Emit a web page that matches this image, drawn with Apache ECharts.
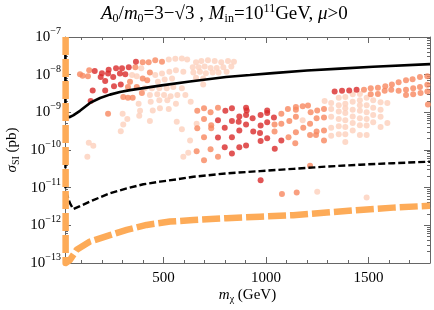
<!DOCTYPE html>
<html><head><meta charset="utf-8">
<script src="https://cdn.jsdelivr.net/npm/echarts@6/dist/echarts.min.js"></script>
<style>html,body{margin:0;padding:0;background:#fff}#c{width:434px;height:310px}</style>
</head><body><div id="c"></div>
<script>
// ---- data: [m_chi (GeV), log10(sigma_SI / pb)] ----
const xTickLabels = [500, 1000, 1500];
const yExponents = [-13, -12, -11, -10, -9, -8, -7];

const darkPoints = [
[366,-7.66],[165,-7.90],[200,-7.96],[233,-7.87],[269,-7.83],[298,-7.83],[331,-7.80],[194,-8.06],[230,-7.97],[255,-8.06],[288,-7.97],[314,-7.99],[216,-8.17],[155,-8.42],[216,-8.42],[259,-8.31],[292,-8.26],[145,-8.70],
[802,-8.96],[834,-8.89],[903,-8.88],[906,-8.95],[870,-9.11],[903,-9.07],[935,-9.16],[974,-9.07],[1006,-8.95],[1006,-9.02],[1039,-9.14],[766,-9.21],[799,-9.41],[834,-9.23],[867,-9.25],[903,-9.32],[938,-9.51],[974,-9.35],[971,-9.55],[1006,-9.26],[766,-9.67],[834,-9.66],[870,-9.48],[1006,-9.69],[974,-9.76],[799,-9.93],[834,-10.09],[870,-9.93],[903,-9.88],[1043,-9.97],[1075,-9.75],[974,-10.80],
[1335,-8.45],[1371,-8.43],[1406,-8.42],[1442,-8.40]
];
const midPoints = [
[399,-7.67],[428,-7.67],[460,-7.62],[493,-7.66],[138,-7.88],[93,-7.99],[106,-8.03],[132,-8.04],[363,-7.80],[399,-8.10],[434,-7.94],[337,-8.19],[421,-8.15],[327,-8.33],[370,-8.33],[304,-8.59],[327,-8.61],[350,-8.61],[395,-8.49],[230,-9.04],
[665,-8.96],[698,-8.89],[730,-9.00],[766,-8.88],[1075,-9.04],[1107,-8.91],[1146,-8.86],[1146,-8.93],[1179,-8.84],[1205,-8.82],[698,-9.18],[733,-9.34],[1042,-9.32],[1075,-9.30],[1114,-9.23],[1146,-9.12],[665,-9.42],[733,-9.42],[1042,-9.51],[1110,-9.66],[1146,-9.53],[1182,-9.41],[698,-9.66],[662,-10.03],[698,-10.27],[730,-9.98],[766,-10.18],[1143,-9.82],[1078,-11.17],[1150,-11.13],[1215,-10.42],[1283,-9.75],
[1250,-8.95],[1283,-8.91],[1218,-9.00],[1247,-9.16],[1283,-9.14],[1215,-9.30],[1247,-9.51],[1283,-9.48],[1215,-9.60],[1244,-9.60],
[1478,-8.40],[1511,-8.36],[1546,-8.35],[1582,-8.31],[1614,-8.26],[1647,-8.20],[1683,-8.15],[1715,-8.12],[1751,-8.06],[1787,-8.04],[1511,-8.52],[1546,-8.51],[1579,-8.43],[1611,-8.40],[1647,-8.43],[1683,-8.40],[1718,-8.36],[1751,-8.33],[1787,-8.27],[1683,-8.54],[1718,-8.52],[1754,-8.49],[1787,-8.45],[1790,-8.79]
];
const lightPoints = [
[526,-7.60],[558,-7.58],[590,-7.57],[616,-7.60],[392,-7.83],[347,-8.01],[370,-8.04],[460,-8.01],[493,-7.97],[529,-7.92],[561,-7.88],[597,-7.92],[473,-8.19],[506,-8.13],[542,-8.10],[409,-8.36],[444,-8.36],[480,-8.36],[516,-8.36],[548,-8.33],[590,-8.36],[434,-8.54],[470,-8.52],[503,-8.54],[535,-8.57],[568,-8.54],[607,-8.54],[379,-8.77],[438,-8.72],[480,-8.68],[519,-8.68],[561,-8.77],[301,-9.04],[386,-8.96],[382,-9.09],[448,-8.95],[483,-8.89],[526,-8.91],[565,-9.25],[304,-9.32],[434,-9.23],[292,-9.50],[136,-9.81],[158,-9.89],[129,-10.18],[597,-10.18],[621,-10.07],[590,-9.45],[630,-9.75],[633,-8.72],[662,-9.30],[324,-9.18],
[659,-7.67],[685,-7.64],[717,-7.62],[750,-7.64],[782,-7.67],[815,-7.64],[844,-7.66],[643,-7.80],[672,-7.80],[701,-7.78],[730,-7.82],[760,-7.82],[792,-7.80],[831,-7.78],[646,-7.94],[678,-7.92],[707,-7.96],[740,-7.94],[769,-7.94],[808,-7.92],[659,-8.08],[694,-8.10],[694,-8.26],
[1179,-9.21],[1387,-9.79],[1250,-11.11],[1491,-11.26],[1286,-8.70],
[1318,-8.75],[1318,-8.91],[1318,-9.12],[1318,-9.41],[1318,-9.62],
[1355,-8.61],[1355,-8.81],[1355,-8.98],[1355,-9.18],[1355,-9.37],[1355,-9.58],
[1387,-8.59],[1387,-8.77],[1387,-8.89],[1387,-9.02],[1387,-9.21],[1387,-9.39],[1387,-9.58],
[1423,-8.52],[1423,-8.72],[1423,-8.93],[1423,-9.11],[1423,-9.28],[1423,-9.48],
[1458,-8.51],[1458,-8.68],[1458,-8.81],[1458,-8.96],[1458,-9.16],[1458,-9.34],[1458,-9.60],
[1491,-8.61],[1491,-8.81],[1491,-9.00],[1491,-9.18],[1491,-9.35],[1491,-9.60],
[1523,-8.68],[1523,-8.88],[1523,-9.07],[1523,-9.26],
[1559,-8.73],[1559,-8.93],[1559,-9.12],[1559,-9.39],
[1592,-8.75],[1592,-9.28]
];
const solidLine = [[22,-7],[22,-9.07],[41,-9.13],[60,-9.08],[93,-8.96],[142,-8.75],[191,-8.62],[239,-8.53],[288,-8.46],[337,-8.41],[386,-8.37],[483,-8.29],[629,-8.18],[805,-8.06],[922,-8.01],[1034,-7.96],[1200,-7.89],[1361,-7.84],[1522,-7.79],[1800,-7.72]];
const dashedLine = [[22,-10.3],[22,-11.06],[44,-11.41],[60,-11.57],[93,-11.49],[158,-11.33],[239,-11.15],[321,-11.02],[402,-10.91],[483,-10.84],[565,-10.78],[646,-10.71],[808,-10.62],[971,-10.56],[1133,-10.50],[1296,-10.44],[1458,-10.39],[1621,-10.35],[1800,-10.31]];
const orangeLine = [[23,-7],[23,-13],[44,-12.92],[77,-12.65],[142,-12.43],[239,-12.26],[321,-12.12],[418,-11.99],[532,-11.90],[646,-11.86],[808,-11.81],[971,-11.77],[1133,-11.73],[1296,-11.66],[1458,-11.59],[1621,-11.53],[1800,-11.48]];

// ---- rendering ----
const FONT = "'Liberation Serif','Times New Roman',serif";
const FRAME = '#666';
const toXY = arr => arr.map(p => [p[0], Math.pow(10, p[1])]);
const xMinor = []; for (let v = 100; v <= 1800; v += 100) xMinor.push(v);
const yMinor = []; for (let e = -13; e < -7; e++) for (let k = 2; k <= 9; k++) yMinor.push(e + Math.log10(k));
const gridRect = {left: 65, right: 4, top: 37, bottom: 47, outerBoundsMode: 'none', containLabel: false};

const rich = {
  n: {fontFamily: FONT, fontSize: 19, fontWeight: 'normal', color: '#000'},
  i: {fontFamily: FONT, fontSize: 19, fontWeight: 'normal', fontStyle: 'italic', color: '#000'},
  sb: {fontFamily: FONT, fontSize: 12, fontWeight: 'normal', color: '#000', padding: [10, 0, 0, 0]},
  sp: {fontFamily: FONT, fontSize: 12, fontWeight: 'normal', color: '#000', padding: [0, 0, 10, 0]}
};
const axRich = {
  n: {fontFamily: FONT, fontSize: 15, color: '#000'},
  i: {fontFamily: FONT, fontSize: 15, fontStyle: 'italic', color: '#000'},
  sb: {fontFamily: FONT, fontSize: 10, color: '#000', padding: [8, 0, 0, 0]},
  b: {fontFamily: FONT, fontSize: 15, color: '#000'},
  s: {fontFamily: FONT, fontSize: 10, color: '#000', padding: [0, 0, 11, 0]}
};

function xAx(grid, pos, opts) {
  return Object.assign({
    type: 'value', gridIndex: grid, position: pos, min: 20, max: 1800,
    axisLine: {show: false}, splitLine: {show: false}, axisLabel: {show: false},
    axisTick: {show: false}
  }, opts);
}
function yAx(grid, pos, opts) {
  return Object.assign({
    type: 'value', gridIndex: grid, position: pos, min: -13, max: -7,
    axisLine: {show: false}, splitLine: {show: false}, axisLabel: {show: false},
    axisTick: {show: false}
  }, opts);
}
const lineF = {show: true, onZero: false, lineStyle: {color: FRAME, width: 1}};

const option = {
  animation: false,
  backgroundColor: '#fff',
  title: {
    text: '{i|A}{sb|0}{n|/}{i|m}{sb|0}{n|=3−√3 , }{i|M}{sb|in}{n|=10}{sp|11}{n|GeV, }{i|μ}{n|>0}',
    left: 101, top: 3, padding: 0,
    textStyle: {fontWeight: 'normal', rich: rich}
  },
  grid: [gridRect, gridRect, gridRect],
  xAxis: [
    xAx(0, 'bottom', {
      axisLine: lineF,
      axisTick: {show: true, inside: true, length: 6, customValues: xTickLabels, lineStyle: {color: FRAME}},
      axisLabel: {show: true, customValues: xTickLabels, margin: 8, fontFamily: FONT, fontSize: 15, color: '#000', formatter: v => String(v)},
      name: '{i|m}{sb|χ}{n| (GeV)}', nameLocation: 'middle', nameGap: 23, nameMoveOverlap: false,
      nameTextStyle: {rich: axRich}
    }),
    xAx(0, 'top', {
      axisLine: lineF,
      axisTick: {show: true, inside: true, length: 6, customValues: xTickLabels, lineStyle: {color: FRAME}}
    }),
    xAx(1, 'bottom', {axisTick: {show: true, inside: true, length: 3, customValues: xMinor, lineStyle: {color: FRAME}}}),
    xAx(1, 'top', {axisTick: {show: true, inside: true, length: 3, customValues: xMinor, lineStyle: {color: FRAME}}}),
    xAx(2, 'bottom', {show: false})
  ],
  yAxis: [
    {type: 'log', gridIndex: 0, position: 'right', min: 1e-13, max: 1e-7, logBase: 10, show: false},
    yAx(0, 'left', {
      interval: 1, axisLine: lineF,
      axisTick: {show: true, inside: true, length: 6, lineStyle: {color: FRAME}},
      axisLabel: {show: true, margin: 4, formatter: v => '{b|10}{s|−' + Math.abs(Math.round(v)) + '}', rich: axRich},
      name: '{i|σ}{sb|SI}{n| (pb)}', nameLocation: 'middle', nameGap: 44, nameRotate: 90, nameMoveOverlap: false,
      nameTextStyle: {rich: axRich}
    }),
    yAx(1, 'left', {axisTick: {show: true, inside: true, length: 3, customValues: yMinor, lineStyle: {color: FRAME}}}),
    yAx(1, 'right', {interval: 1, axisLine: lineF, axisTick: {show: true, inside: true, length: 6, lineStyle: {color: FRAME}}}),
    yAx(2, 'right', {axisTick: {show: true, inside: true, length: 3, customValues: yMinor, lineStyle: {color: FRAME}}})
  ],
  series: [
    {type: 'scatter', xAxisIndex: 0, yAxisIndex: 0, data: toXY(lightPoints), symbolSize: 6, itemStyle: {color: '#fdd0bc'}, z: 2},
    {type: 'scatter', xAxisIndex: 0, yAxisIndex: 0, data: toXY(midPoints), symbolSize: 6, itemStyle: {color: '#f7875f'}, z: 3},
    {type: 'scatter', xAxisIndex: 0, yAxisIndex: 0, data: toXY(darkPoints), symbolSize: 6, itemStyle: {color: '#d92b2b'}, z: 4},
    {type: 'line', xAxisIndex: 0, yAxisIndex: 0, data: toXY(solidLine), showSymbol: false, symbol: 'none', clip: false,
      lineStyle: {color: '#000', width: 2.6}, z: 5},
    {type: 'line', xAxisIndex: 0, yAxisIndex: 0, data: toXY(dashedLine), showSymbol: false, symbol: 'none', clip: false,
      lineStyle: {color: '#000', width: 2.4, type: [7, 3]}, z: 5},
    {type: 'line', xAxisIndex: 0, yAxisIndex: 0, data: toXY(orangeLine), showSymbol: false, symbol: 'none', clip: false,
      lineStyle: {color: '#fdab58', width: 6.5, type: [18, 4], join: 'round'}, z: 6}
  ]
};
const chart = echarts.init(document.getElementById('c'), null, {renderer: 'canvas'});
chart.setOption(option);
</script>
</body></html>
